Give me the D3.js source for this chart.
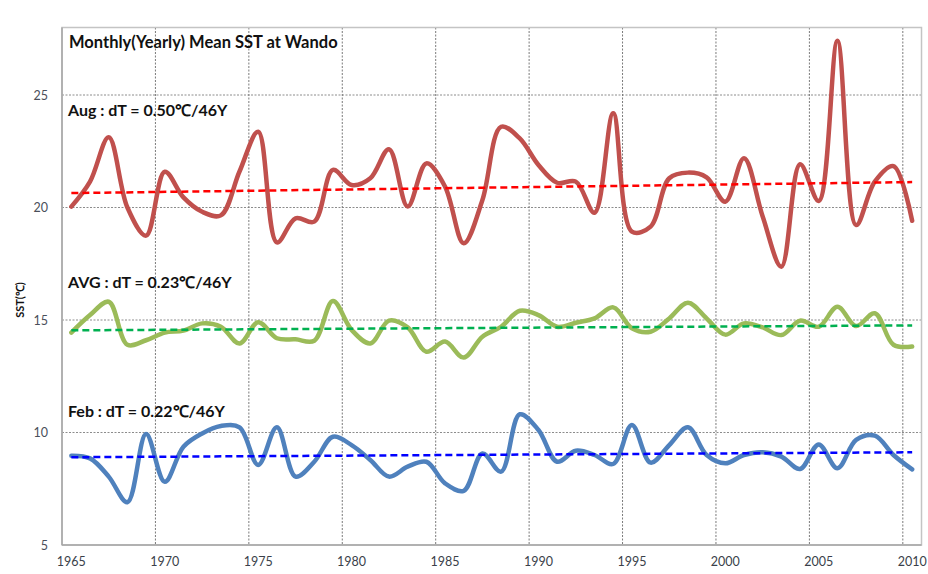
<!DOCTYPE html>
<html>
<head>
<meta charset="utf-8">
<script src="https://cdn.jsdelivr.net/npm/d3@7"></script>
<style>
  body { margin: 0; background: #fff; }
  svg { display: block; font-family: Lato, "Open Sans", sans-serif; }
</style>
</head>
<body>
<svg id="chart"></svg>
<script>
// yearly categories
const years = [1965, 1966, 1967, 1968, 1969, 1970, 1971, 1972, 1973, 1974,
               1975, 1976, 1977, 1978, 1979, 1980, 1981, 1982, 1983, 1984,
               1985, 1986, 1987, 1988, 1989, 1990, 1991, 1992, 1993, 1994,
               1995, 1996, 1997, 1998, 1999, 2000, 2001, 2002, 2003, 2004,
               2005, 2006, 2007, 2008, 2009, 2010];

// August mean SST
const augSST = [20.04, 21.15, 23.12, 20.0, 18.75, 21.59, 20.45, 19.81, 19.65, 21.6,
                23.37, 18.45, 19.52, 19.37, 21.67, 21.0, 21.3, 22.59, 20.04, 21.96,
                20.93, 18.41, 20.33, 23.59, 23.07, 21.89, 21.1, 21.15, 19.77, 24.19,
                18.93, 19.15, 21.3, 21.55, 21.34, 20.26, 22.19, 19.6, 17.37, 21.92,
                20.29, 27.41, 19.22, 21.15, 21.84, 19.41];

// yearly average SST
const avgSST = [14.44, 15.22, 15.81, 13.9, 14.1, 14.44, 14.53, 14.85, 14.7, 13.96,
                14.9, 14.19, 14.14, 14.08, 15.84, 14.56, 13.96, 14.97, 14.67, 13.59,
                14.04, 13.33, 14.26, 14.7, 15.41, 15.22, 14.7, 14.88, 15.07, 15.56,
                14.63, 14.48, 15.07, 15.77, 15.07, 14.35, 14.85, 14.67, 14.33, 14.97,
                14.7, 15.59, 14.73, 15.3, 13.9, 13.82];

// February mean SST
const febSST = [8.97, 8.85, 8.04, 6.9, 9.93, 7.81, 9.37, 9.96, 10.29, 10.23,
                8.56, 10.23, 8.04, 8.7, 9.81, 9.44, 8.78, 8.04, 8.48, 8.7,
                7.74, 7.41, 9.07, 8.26, 10.81, 10.11, 8.7, 9.19, 9.0, 8.6,
                10.33, 8.66, 9.44, 10.23, 9.0, 8.63, 9.0, 9.12, 8.93, 8.38,
                9.47, 8.41, 9.67, 9.86, 9.0, 8.36];

// linear trend values at first and last year
const augTrend = [20.64, 21.13];
const avgTrend = [14.54, 14.76];
const febTrend = [8.90, 9.12];

const trendLabels = ["Aug : dT = 0.50\u2103/46Y", "AVG : dT = 0.23\u2103/46Y", "Feb : dT = 0.22\u2103/46Y"];
const yTicks = [5, 10, 15, 20, 25];
const xLabelYears = [1965, 1970, 1975, 1980, 1985, 1990, 1995, 2000, 2005, 2010];
const gridYears = [1970, 1975, 1980, 1985, 1990, 1995, 2000, 2005, 2010];

let width = 928, height = 574;
var margin = {top: 27.5, right: 6.5, bottom: 29, left: 62};

let svg = d3.select("#chart")
    .attr("width", width)
    .attr("height", height);

const x = d3.scaleBand()
    .domain(years)
    .range([margin.left, width - margin.right])
    .padding(0);

const y = d3.scaleLinear()
    .domain([5, 28])
    .range([height - margin.bottom, margin.top]);

const half = x.bandwidth() / 2;
const cx = yr => x(yr) + half;

// gridlines
svg.append("g")
    .selectAll("line")
    .data(yTicks.slice(1))
    .enter()
    .append("line")
    .attr("x1", margin.left).attr("x2", width - margin.right)
    .attr("y1", d => y(d)).attr("y2", d => y(d))
    .attr("stroke", "#8c8c8c")
    .attr("stroke-width", 1)
    .attr("stroke-dasharray", "2,1.5");

svg.append("g")
    .selectAll("line")
    .data(gridYears)
    .enter()
    .append("line")
    .attr("x1", d => x(d)).attr("x2", d => x(d))
    .attr("y1", margin.top).attr("y2", height - margin.bottom)
    .attr("stroke", "#7a7a7a")
    .attr("stroke-width", 1)
    .attr("stroke-dasharray", "2,1.5");

// plot frame
svg.append("rect")
    .attr("x", margin.left).attr("y", margin.top)
    .attr("width", width - margin.left - margin.right)
    .attr("height", height - margin.top - margin.bottom)
    .attr("fill", "none")
    .attr("stroke", "#c4c4c4")
    .attr("stroke-width", 1.5);

svg.append("line")
    .attr("x1", margin.left).attr("x2", margin.left)
    .attr("y1", margin.top).attr("y2", height - margin.bottom)
    .attr("stroke", "#a6a6a6").attr("stroke-width", 1.5);
svg.append("line")
    .attr("x1", margin.left).attr("x2", width - margin.right)
    .attr("y1", height - margin.bottom).attr("y2", height - margin.bottom)
    .attr("stroke", "#a6a6a6").attr("stroke-width", 1.5);

// axes
svg.append("g")
    .attr("transform", "translate(" + margin.left + ",0)")
    .style("font", "12.5px Lato")
    .call(d3.axisLeft(y).tickValues(yTicks).tickSize(0).tickPadding(14))
    .call(g => g.select(".domain").remove())
    .selectAll("text").attr("fill", "#4a4f5a");

svg.append("g")
    .attr("transform", "translate(0," + (height - margin.bottom) + ")")
    .style("font", "12.5px Lato")
    .call(d3.axisBottom(x).tickValues(xLabelYears).tickSize(0).tickPadding(12))
    .call(g => g.select(".domain").remove())
    .selectAll("text").attr("fill", "#3a3f4a");

svg.append("text")
    .attr("transform", "translate(24," + 300 + ") rotate(-90)")
    .attr("text-anchor", "middle")
    .style("font", "bold 11px Lato")
    .attr("fill", "#111")
    .text("SST(\u2103)");

// series
const series = [
    {values: augSST, trend: augTrend, color: "#c0504d", trendColor: "#ff0000"},
    {values: avgSST, trend: avgTrend, color: "#9bbb59", trendColor: "#00b050"},
    {values: febSST, trend: febTrend, color: "#4f81bd", trendColor: "#0000ff"}
];

const line = d3.line()
    .x((d, i) => cx(years[i]))
    .y(d => y(d))
    .curve(d3.curveCatmullRom.alpha(0.5));

series.forEach(s => {
    svg.append("path")
        .datum(s.values)
        .attr("d", line)
        .attr("fill", "none")
        .attr("stroke", s.color)
        .attr("stroke-width", 4.5)
        .attr("stroke-linejoin", "round")
        .attr("stroke-linecap", "round");

    svg.append("line")
        .attr("x1", cx(years[0])).attr("y1", y(s.trend[0]))
        .attr("x2", cx(years[years.length - 1])).attr("y2", y(s.trend[1]))
        .attr("stroke", s.trendColor)
        .attr("stroke-width", 2.5)
        .attr("stroke-dasharray", "7,4");
});

// texts
svg.append("text")
    .attr("x", 69).attr("y", 48)
    .style("font", "bold 16.5px Lato")
    .attr("fill", "#111")
    .text("Monthly(Yearly) Mean SST at Wando");

const labelY = [116, 288, 417];
trendLabels.forEach((t, i) => {
    svg.append("text")
        .attr("x", 68).attr("y", labelY[i])
        .style("font", "bold 16px Lato")
        .attr("fill", "#111")
        .text(t);
});
</script>
</body>
</html>
